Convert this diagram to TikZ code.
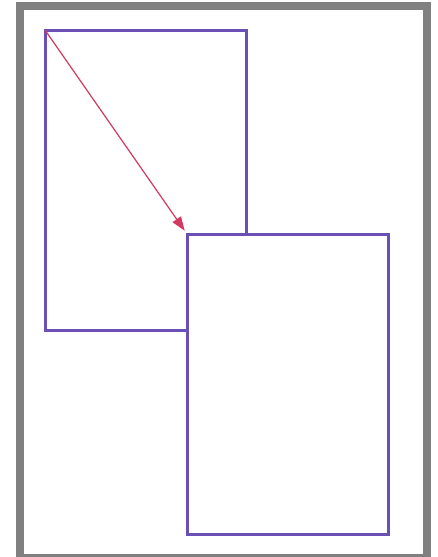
\documentclass[tikz,border=0pt]{standalone}
\usepackage{xcolor}
\usepackage{tikz}
\usetikzlibrary{arrows.meta,positioning}

\definecolor{boxpurple}{HTML}{6A50B4}
\definecolor{arrowred}{HTML}{D23A62}
\definecolor{framegray}{HTML}{808080}

\begin{document}
\begin{tikzpicture}[x=1pt,y=-1pt]
        \tikzset{pagebox/.style={draw=boxpurple, line width=3pt, fill=white, inner sep=0pt, outer sep=0pt,
                 minimum width=201pt, minimum height=300pt, anchor=north west}}
        \tikzset{movearrow/.style={-{Triangle[length=14pt, width=10pt]}, draw=arrowred, fill=arrowred, line width=1.2pt}}
        \useasboundingbox (0,0) rectangle (437,557);
        \fill[white] (0,0) rectangle (437,557);
        % outer frame, bottom edge runs off the page
        \draw[framegray, line width=8pt] (20,5.5) rectangle (426.5,557.5);
        % first page and moved page
        \node[pagebox] (first) at (45,30) {};
        \node[pagebox] (second) at (187,234) {};
        \draw[movearrow, shorten >=4pt] (first.north west) -- (second.north west);
\end{tikzpicture}
\end{document}
